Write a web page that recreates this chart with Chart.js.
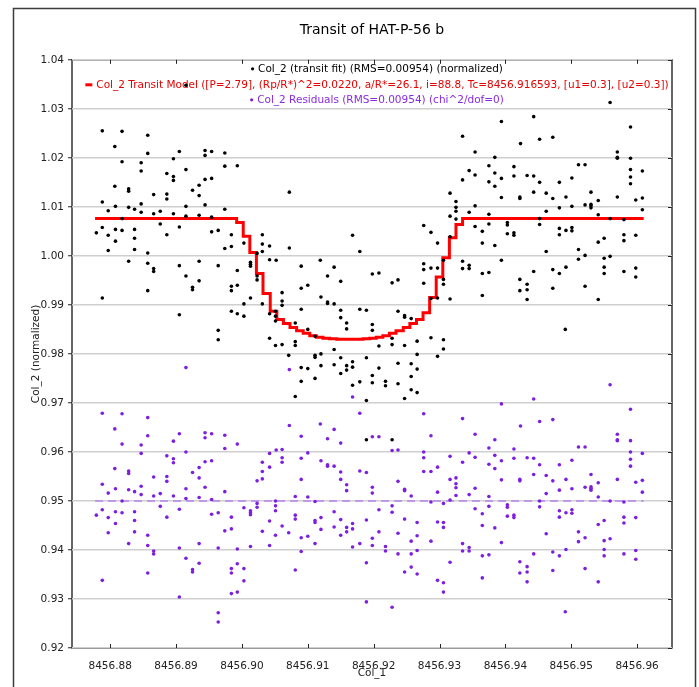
<!DOCTYPE html>
<html>
<head>
<meta charset="utf-8">
<title>Transit of HAT-P-56 b</title>
<script src="https://cdn.jsdelivr.net/npm/chart.js@4.4.1/dist/chart.umd.min.js"></script>
<style>
  html, body { margin: 0; padding: 0; background: #fff; }
  #wrap { width: 699px; height: 687px; }
</style>
</head>
<body>
<div id="wrap"><canvas id="transitChart" width="699" height="687"></canvas></div>
<script>
// observation times (BJD - 2450000), one per measurement
const time = [
  8456.8788, 8456.8818, 8456.8857, 8456.8807, 8456.8857, 8456.8905, 8456.8944, 8456.8954, 8456.8974, 8456.8944,
  8456.8818, 8456.8847, 8456.8896, 8456.8847, 8456.8974, 8456.8993, 8456.8915, 8456.8886, 8456.8896, 8456.8896,
  8456.8944, 8456.8954, 8456.8807, 8456.8828, 8456.8828, 8456.8925, 8456.8935, 8456.8866, 8456.8886, 8456.8886,
  8456.8935, 8456.8788, 8456.8847, 8456.8944, 8456.8808, 8456.8828, 8456.8837, 8456.8915, 8456.8974, 8456.8797,
  8456.8847, 8456.8876, 8456.8866, 8456.8896, 8456.8915, 8456.8935, 8456.8818, 8456.8954, 8456.8788, 8456.8876,
  8456.8905, 8456.8779, 8456.8808, 8456.8818, 8456.8837, 8456.8954, 8456.8964, 8456.8797, 8456.8837, 8456.8886,
  8456.8984, 8456.9031, 8456.8808, 8456.9003, 8456.9031, 8456.9042, 8456.8797, 8456.8837, 8456.8974, 8456.8984,
  8456.9031, 8456.8857, 8456.9042, 8456.9023, 8456.8828, 8456.8857, 8456.8935, 8456.8905, 8456.8964, 8456.9013,
  8456.9013, 8456.9013, 8456.8866, 8456.8866, 8456.8993, 8456.8915, 8456.9023, 8456.9023, 8456.8935, 8456.8925,
  8456.8925, 8456.8984, 8456.8984, 8456.8993, 8456.8857, 8456.9013, 8456.8788, 8456.9003, 8456.9031, 8456.8984,
  8456.8993, 8456.9003, 8456.8905, 8456.9042, 8456.8964, 8456.8964, 8456.9042, 8456.8915,
  8456.9335, 8456.9354, 8456.9345, 8456.9335, 8456.9354, 8456.9072, 8456.9316, 8456.9325, 8456.9325, 8456.9325,
  8456.9316, 8456.9345, 8456.9354, 8456.9325, 8456.9354, 8456.9276, 8456.9287, 8456.9297, 8456.9316, 8456.9168,
  8456.9072, 8456.9179, 8456.9052, 8456.9306, 8456.9119, 8456.9090, 8456.9140, 8456.9276, 8456.9276, 8456.9287,
  8456.9297, 8456.9335, 8456.9345, 8456.9335, 8456.9345, 8456.9130, 8456.9150, 8456.9100, 8456.9090, 8456.9198,
  8456.9208, 8456.9228, 8456.9237, 8456.9276, 8456.9306, 8456.9306, 8456.9297, 8456.9287, 8456.9316, 8456.9061,
  8456.9061, 8456.9061, 8456.9120, 8456.9130, 8456.9130, 8456.9140, 8456.9090, 8456.9051, 8456.9051, 8456.9051,
  8456.9150, 8456.9150, 8456.9159, 8456.9159, 8456.9179, 8456.9189, 8456.9081, 8456.9100, 8456.9198, 8456.9198,
  8456.9237, 8456.9247, 8456.9247, 8456.9257, 8456.9051, 8456.9061, 8456.9081, 8456.9081, 8456.9111, 8456.9140,
  8456.9228, 8456.9228, 8456.9208, 8456.9247, 8456.9266, 8456.9287, 8456.9306, 8456.9306, 8456.9297, 8456.9071,
  8456.9111, 8456.9111, 8456.9120, 8456.9090, 8456.9100, 8456.9120, 8456.9140, 8456.9150, 8456.9150, 8456.9159,
  8456.9159, 8456.9168, 8456.9168, 8456.9189, 8456.9168, 8456.9179, 8456.9198, 8456.9198, 8456.9208, 8456.9218,
  8456.9218, 8456.9237, 8456.9237, 8456.9257, 8456.9257, 8456.9266, 8456.9257, 8456.9266, 8456.9247, 8456.9266,
  8456.9111, 8456.9090, 8456.9081, 8456.9189, 8456.9189, 8456.9228,
  8456.9559, 8456.9394, 8456.9443, 8456.9590, 8456.9452, 8456.9472, 8456.9423, 8456.9570, 8456.9570, 8456.9570,
  8456.9590, 8456.9384, 8456.9375, 8456.9413, 8456.9511, 8456.9521, 8456.9590, 8456.9608, 8456.9384, 8456.9413,
  8456.9433, 8456.9443, 8456.9394, 8456.9501, 8456.9590, 8456.9375, 8456.9452, 8456.9482, 8456.9384, 8456.9590,
  8456.9530, 8456.9443, 8456.9462, 8456.9394, 8456.9422, 8456.9422, 8456.9472, 8456.9492, 8456.9570, 8456.9598,
  8456.9608, 8456.9541, 8456.9521, 8456.9530, 8456.9530, 8456.9530, 8456.9501, 8456.9482, 8456.9462, 8456.9608,
  8456.9375, 8456.9541, 8456.9452, 8456.9559, 8456.9580, 8456.9375, 8456.9403, 8456.9403, 8456.9452, 8456.9482,
  8456.9501, 8456.9501, 8456.9492, 8456.9365, 8456.9403, 8456.9413, 8456.9413, 8456.9482, 8456.9580, 8456.9598,
  8456.9550, 8456.9541, 8456.9365, 8456.9384, 8456.9580, 8456.9462, 8456.9511, 8456.9511, 8456.9521, 8456.9550,
  8456.9559, 8456.9394, 8456.9365, 8456.9375, 8456.9443, 8456.9472, 8456.9482, 8456.9492, 8456.9550, 8456.9550,
  8456.9580, 8456.9598, 8456.9598, 8456.9422, 8456.9433, 8456.9422, 8456.9433, 8456.9433, 8456.9365, 8456.9472,
  8456.9521, 8456.9541, 8456.9491
];

// normalized flux (transit fit)
const flux = [
  1.0255, 1.0254, 1.0246, 1.0223, 1.0209, 1.0213, 1.0215, 1.0213, 1.0210, 1.0205,
  1.0192, 1.0190, 1.0198, 1.0173, 1.0183, 1.0184, 1.0176, 1.0168, 1.0162, 1.0154,
  1.0156, 1.0158, 1.0142, 1.0137, 1.0132, 1.0134, 1.0144, 1.0125, 1.0126, 1.0116,
  1.0123, 1.0110, 1.0106, 1.0104, 1.0101, 1.0099, 1.0095, 1.0101, 1.0095, 1.0092,
  1.0089, 1.0091, 1.0086, 1.0086, 1.0081, 1.0083, 1.0076, 1.0079, 1.0058, 1.0065,
  1.0059, 1.0047, 1.0054, 1.0052, 1.0054, 1.0049, 1.0052, 1.0042, 1.0036, 1.0043,
  1.0043, 1.0043, 1.0030, 1.0026, 1.0024, 1.0020, 1.0011, 1.0013, 1.0015, 1.0019,
  1.0009, 1.0006, 0.9992, 1.0005, 0.9989, 0.9985, 0.9989, 0.9980, 0.9980, 0.9987,
  0.9983, 0.9979, 0.9974, 0.9968, 0.9970, 0.9959, 0.9959, 0.9951, 0.9949, 0.9936,
  0.9931, 0.9938, 0.9929, 0.9940, 0.9929, 0.9914, 0.9914, 0.9902, 0.9902, 0.9887,
  0.9882, 0.9877, 0.9880, 0.9882, 0.9848, 0.9829, 0.9832, 1.0348,
  1.0244, 1.0212, 1.0174, 1.0155, 1.0165, 1.0130, 1.0128, 1.0111, 1.0099, 1.0091,
  1.0081, 1.0089, 1.0102, 1.0075, 1.0060, 1.0062, 1.0048, 1.0026, 1.0039, 1.0042,
  1.0016, 1.0009, 0.9991, 0.9991, 0.9991, 0.9979, 0.9977, 0.9984, 0.9972, 0.9975,
  0.9975, 0.9989, 0.9981, 0.9974, 0.9974, 0.9959, 0.9948, 0.9940, 0.9934, 0.9963,
  0.9965, 0.9945, 0.9951, 0.9944, 0.9952, 0.9942, 0.9914, 0.9913, 0.9912, 0.9925,
  0.9908, 0.9899, 0.9916, 0.9906, 0.9903, 0.9902, 0.9891, 0.9887, 0.9877, 0.9867,
  0.9889, 0.9874, 0.9863, 0.9851, 0.9891, 0.9889, 0.9863, 0.9850, 0.9860, 0.9848,
  0.9887, 0.9878, 0.9875, 0.9872, 0.9817, 0.9819, 0.9825, 0.9817, 0.9836, 0.9809,
  0.9832, 0.9819, 0.9816, 0.9817, 0.9826, 0.9833, 0.9829, 0.9810, 0.9795, 0.9797,
  0.9797, 0.9793, 0.9800, 0.9772, 0.9770, 0.9776, 0.9778, 0.9792, 0.9760, 0.9776,
  0.9767, 0.9784, 0.9773, 0.9792, 0.9736, 0.9743, 0.9756, 0.9741, 0.9771, 0.9744,
  0.9735, 0.9781, 0.9739, 0.9780, 0.9754, 0.9769, 0.9727, 0.9721, 0.9709, 0.9799,
  0.9750, 0.9744, 0.9713, 0.9705, 0.9625, 0.9625,
  1.0313, 1.0274, 1.0284, 1.0263, 1.0238, 1.0242, 1.0229, 1.0212, 1.0201, 1.0199,
  1.0199, 1.0201, 1.0184, 1.0182, 1.0186, 1.0186, 1.0176, 1.0173, 1.0169, 1.0163,
  1.0164, 1.0163, 1.0158, 1.0159, 1.0161, 1.0151, 1.0150, 1.0150, 1.0142, 1.0147,
  1.0130, 1.0130, 1.0128, 1.0119, 1.0120, 1.0117, 1.0117, 1.0120, 1.0120, 1.0114,
  1.0118, 1.0113, 1.0104, 1.0105, 1.0102, 1.0098, 1.0101, 1.0098, 1.0091, 1.0094,
  1.0085, 1.0084, 1.0076, 1.0076, 1.0074, 1.0065, 1.0068, 1.0063, 1.0064, 1.0056,
  1.0058, 1.0051, 1.0052, 1.0050, 1.0045, 1.0047, 1.0042, 1.0043, 1.0043, 1.0042,
  1.0036, 1.0028, 1.0026, 1.0021, 1.0031, 1.0009, 1.0013, 0.9993, 1.0001, 0.9995,
  0.9999, 0.9991, 0.9964, 0.9966, 0.9968, 0.9972, 0.9964, 0.9977, 0.9977, 0.9964,
  0.9968, 0.9975, 0.9957, 0.9952, 0.9942, 0.9929, 0.9931, 0.9911, 0.9919, 0.9934,
  0.9938, 0.9911, 0.9850
];

// residuals, plotted offset around 0.95
const resid = [
  0.9679, 0.9678, 0.9670, 0.9647, 0.9633, 0.9637, 0.9639, 0.9637, 0.9634, 0.9629,
  0.9616, 0.9614, 0.9622, 0.9597, 0.9607, 0.9616, 0.9600, 0.9592, 0.9586, 0.9578,
  0.9580, 0.9582, 0.9566, 0.9561, 0.9556, 0.9558, 0.9568, 0.9549, 0.9550, 0.9540,
  0.9547, 0.9534, 0.9530, 0.9528, 0.9525, 0.9523, 0.9519, 0.9525, 0.9519, 0.9516,
  0.9513, 0.9515, 0.9510, 0.9510, 0.9505, 0.9507, 0.9500, 0.9503, 0.9482, 0.9489,
  0.9483, 0.9471, 0.9478, 0.9476, 0.9478, 0.9473, 0.9476, 0.9466, 0.9460, 0.9467,
  0.9467, 0.9579, 0.9454, 0.9486, 0.9560, 0.9597, 0.9435, 0.9437, 0.9439, 0.9443,
  0.9545, 0.9430, 0.9569, 0.9541, 0.9413, 0.9409, 0.9413, 0.9404, 0.9404, 0.9480,
  0.9476, 0.9472, 0.9398, 0.9392, 0.9402, 0.9383, 0.9495, 0.9487, 0.9373, 0.9360,
  0.9355, 0.9362, 0.9353, 0.9372, 0.9353, 0.9407, 0.9338, 0.9362, 0.9438, 0.9311,
  0.9314, 0.9337, 0.9304, 0.9459, 0.9272, 0.9253, 0.9409, 0.9772,
  0.9668, 0.9636, 0.9598, 0.9579, 0.9589, 0.9768, 0.9591, 0.9547, 0.9535, 0.9527,
  0.9544, 0.9513, 0.9526, 0.9511, 0.9484, 0.9678, 0.9633, 0.9569, 0.9502, 0.9712,
  0.9654, 0.9679, 0.9604, 0.9495, 0.9657, 0.9632, 0.9646, 0.9600, 0.9588, 0.9560,
  0.9518, 0.9413, 0.9405, 0.9398, 0.9398, 0.9627, 0.9618, 0.9598, 0.9587, 0.9631,
  0.9631, 0.9603, 0.9604, 0.9560, 0.9456, 0.9446, 0.9457, 0.9498, 0.9375, 0.9605,
  0.9588, 0.9579, 0.9582, 0.9574, 0.9571, 0.9571, 0.9544, 0.9500, 0.9490, 0.9480,
  0.9559, 0.9544, 0.9533, 0.9521, 0.9561, 0.9558, 0.9509, 0.9508, 0.9528, 0.9516,
  0.9540, 0.9524, 0.9521, 0.9510, 0.9430, 0.9449, 0.9471, 0.9463, 0.9499, 0.9478,
  0.9490, 0.9477, 0.9482, 0.9463, 0.9456, 0.9418, 0.9333, 0.9314, 0.9338, 0.9435,
  0.9460, 0.9456, 0.9466, 0.9425, 0.9428, 0.9442, 0.9447, 0.9462, 0.9430, 0.9446,
  0.9437, 0.9454, 0.9443, 0.9461, 0.9406, 0.9413, 0.9424, 0.9409, 0.9437, 0.9407,
  0.9398, 0.9434, 0.9392, 0.9418, 0.9392, 0.9399, 0.9365, 0.9351, 0.9355, 0.9429,
  0.9413, 0.9397, 0.9359, 0.9374, 0.9294, 0.9283,
  0.9737, 0.9698, 0.9708, 0.9687, 0.9662, 0.9666, 0.9653, 0.9636, 0.9625, 0.9623,
  0.9623, 0.9625, 0.9608, 0.9606, 0.9610, 0.9610, 0.9600, 0.9597, 0.9593, 0.9587,
  0.9588, 0.9587, 0.9582, 0.9583, 0.9585, 0.9575, 0.9574, 0.9574, 0.9566, 0.9571,
  0.9554, 0.9554, 0.9552, 0.9543, 0.9544, 0.9541, 0.9541, 0.9544, 0.9544, 0.9538,
  0.9542, 0.9537, 0.9528, 0.9529, 0.9526, 0.9522, 0.9525, 0.9522, 0.9515, 0.9518,
  0.9509, 0.9508, 0.9500, 0.9500, 0.9498, 0.9489, 0.9492, 0.9487, 0.9488, 0.9480,
  0.9482, 0.9475, 0.9476, 0.9474, 0.9469, 0.9471, 0.9466, 0.9467, 0.9467, 0.9466,
  0.9460, 0.9452, 0.9450, 0.9445, 0.9455, 0.9433, 0.9437, 0.9417, 0.9425, 0.9419,
  0.9423, 0.9415, 0.9388, 0.9390, 0.9392, 0.9396, 0.9388, 0.9401, 0.9401, 0.9388,
  0.9392, 0.9399, 0.9381, 0.9376, 0.9366, 0.9353, 0.9355, 0.9335, 0.9343, 0.9358,
  0.9362, 0.9335, 0.9274
];

// binned transit model: each value holds until the next time
const modelTime = [
  8456.8777, 8456.8992, 8456.9002, 8456.9012, 8456.9022, 8456.9032, 8456.9043, 8456.9053, 8456.9063, 8456.9073,
  8456.9083, 8456.9093, 8456.9103, 8456.9113, 8456.9123, 8456.9133, 8456.9144, 8456.9154, 8456.9164, 8456.9174,
  8456.9184, 8456.9194, 8456.9204, 8456.9214, 8456.9224, 8456.9234, 8456.9245, 8456.9255, 8456.9265, 8456.9275,
  8456.9285, 8456.9295, 8456.9305, 8456.9315, 8456.9325, 8456.9335, 8456.9610
];
const modelFlux = [
  1.0076, 1.0068, 1.0040, 1.0007, 0.9964, 0.9923, 0.9887, 0.9870, 0.9862, 0.9854,
  0.9847, 0.9842, 0.9837, 0.9834, 0.9832, 0.9831, 0.9830, 0.9830, 0.9830, 0.9830,
  0.9831, 0.9832, 0.9834, 0.9837, 0.9842, 0.9847, 0.9854, 0.9862, 0.9870, 0.9884,
  0.9915, 0.9957, 0.9996, 1.0037, 1.0064, 1.0076, 1.0076
];
const residBaseline = 0.95;

const xTicks = [8456.88, 8456.89, 8456.90, 8456.91, 8456.92, 8456.93, 8456.94, 8456.95, 8456.96];
const yTicks = [0.92, 0.93, 0.94, 0.95, 0.96, 0.97, 0.98, 0.99, 1.00, 1.01, 1.02, 1.03, 1.04];

const fitLabel = 'Col_2 (transit fit) (RMS=0.00954) (normalized)';
const modelLabel = 'Col_2 Transit Model ([P=2.79], (Rp/R*)^2=0.0220, a/R*=26.1, i=88.8, Tc=8456.916593, [u1=0.3], [u2=0.3])';
const residLabel = 'Col_2 Residuals (RMS=0.00954) (chi^2/dof=0)';

const FONT = '"DejaVu Sans", Verdana, sans-serif';
const PURPLE = '#7d1fe0';

// frame, inner tick marks and the legend drawn inside the plot
const framePlugin = {
    id: 'frame',
    beforeDraw(chart) {
        const { ctx, chartArea: a } = chart;
        ctx.save();
        ctx.strokeStyle = '#3c3c3c';
        ctx.lineWidth = 1.5;
        ctx.beginPath();
        ctx.moveTo(13.5, chart.height);
        ctx.lineTo(13.5, 8.5);
        ctx.lineTo(695.5, 8.5);
        ctx.lineTo(695.5, chart.height);
        ctx.stroke();
        ctx.strokeStyle = '#000';
        ctx.lineWidth = 1.2;
        ctx.strokeRect(a.left, a.top, a.right - a.left, a.bottom - a.top);
        ctx.restore();
    },
    beforeDatasetsDraw(chart) {
        const { ctx, chartArea: a, scales } = chart;
        ctx.save();
        ctx.strokeStyle = '#222';
        ctx.lineWidth = 1;
        ctx.beginPath();
        xTicks.forEach(v => {
            const px = Math.round(scales.x.getPixelForValue(v)) + 0.5;
            ctx.moveTo(px, a.top);
            ctx.lineTo(px, a.top + 4);
            ctx.moveTo(px, a.bottom);
            ctx.lineTo(px, a.bottom - 4);
        });
        yTicks.forEach(v => {
            const py = Math.round(scales.y.getPixelForValue(v)) + 0.5;
            ctx.moveTo(a.right - 4, py);
            ctx.lineTo(a.right, py);
        });
        ctx.stroke();

        ctx.font = '10.5px ' + FONT;
        ctx.textBaseline = 'middle';
        const cx = (a.left + a.right) / 2 + 5;
        chart.data.datasets.forEach(ds => {
            if (!ds.legendRow) return;
            const y = a.top + ds.legendRow;
            const w = ctx.measureText(ds.label).width;
            const markW = ds.legendMarker === 'line' ? 7 : 3;
            const x0 = cx - (markW + 4 + w) / 2;
            if (ds.legendMarker === 'line') {
                ctx.fillStyle = ds.borderColor;
                ctx.fillRect(x0, y - 1.5, 7, 3);
            } else {
                ctx.fillStyle = ds.backgroundColor;
                ctx.beginPath();
                ctx.arc(x0 + 1.5, y, 1.6, 0, Math.PI * 2);
                ctx.fill();
            }
            ctx.fillStyle = ds.legendColor;
            ctx.textAlign = 'left';
            ctx.fillText(ds.label, x0 + markW + 4, y);
        });
        ctx.restore();
    }
};

document.addEventListener('DOMContentLoaded', function () {
    const fitPoints = time.map((t, i) => ({ x: t, y: flux[i] }));
    const residPoints = time.map((t, i) => ({ x: t, y: resid[i] }));
    const modelPoints = modelTime.map((t, i) => ({ x: t, y: modelFlux[i] }));
    const basePoints = [modelTime[0], modelTime[modelTime.length - 1]].map(t => ({ x: t, y: residBaseline }));

    const ctx = document.getElementById('transitChart').getContext('2d');
    new Chart(ctx, {
        type: 'scatter',
        data: {
            datasets: [{
                label: fitLabel,
                data: fitPoints,
                backgroundColor: '#000',
                borderWidth: 0,
                pointRadius: 1.8,
                order: 1,
                legendRow: 9,
                legendMarker: 'dot',
                legendColor: '#000'
            }, {
                type: 'line',
                label: modelLabel,
                data: modelPoints,
                borderColor: '#ff0000',
                borderWidth: 3,
                pointRadius: 0,
                stepped: 'before',
                fill: false,
                order: 4,
                legendRow: 25,
                legendMarker: 'line',
                legendColor: '#e60000'
            }, {
                label: residLabel,
                data: residPoints,
                backgroundColor: PURPLE,
                borderWidth: 0,
                pointRadius: 1.8,
                order: 2,
                legendRow: 40,
                legendMarker: 'dot',
                legendColor: '#8a2be2'
            }, {
                type: 'line',
                label: 'residual zero',
                data: basePoints,
                borderColor: '#b784ea',
                borderWidth: 1.5,
                borderDash: [8, 5],
                pointRadius: 0,
                fill: false,
                order: 5
            }]
        },
        options: {
            responsive: false,
            animation: false,
            devicePixelRatio: 1,
            layout: { padding: { left: 0, right: 27, top: 0, bottom: 0 } },
            scales: {
                x: {
                    type: 'linear',
                    min: 8456.8742,
                    max: 8456.9653,
                    afterBuildTicks: s => { s.ticks = xTicks.map(v => ({ value: v })); },
                    afterFit: s => { s.height = 39; },
                    grid: { display: false },
                    border: { display: false },
                    ticks: {
                        padding: 4,
                        color: '#222',
                        font: { family: FONT, size: 10.5 },
                        maxRotation: 0,
                        callback: v => v.toFixed(2)
                    },
                    title: {
                        display: true,
                        text: 'Col_1',
                        color: '#222',
                        font: { family: FONT, size: 10.5 },
                        padding: { top: 0, bottom: 7 }
                    }
                },
                y: {
                    min: 0.92,
                    max: 1.04,
                    afterBuildTicks: s => { s.ticks = yTicks.map(v => ({ value: v })); },
                    afterFit: s => { s.width = 72; },
                    grid: {
                        color: '#cfcfcf',
                        lineWidth: 1.5,
                        drawTicks: true,
                        tickLength: 4,
                        tickColor: '#222',
                        tickWidth: 1
                    },
                    border: { display: false },
                    ticks: {
                        padding: 4,
                        color: '#222',
                        font: { family: FONT, size: 10.5 },
                        callback: v => v.toFixed(2)
                    },
                    title: {
                        display: true,
                        text: 'Col_2 (normalized)',
                        color: '#222',
                        font: { family: FONT, size: 10.5 },
                        padding: { top: 30, bottom: 0 }
                    }
                }
            },
            plugins: {
                legend: { display: false },
                tooltip: { enabled: false },
                title: {
                    display: true,
                    fullSize: false,
                    text: 'Transit of HAT-P-56 b',
                    color: '#000',
                    font: { family: FONT, size: 14, weight: 'normal' },
                    padding: { top: 22, bottom: 21 }
                }
            }
        },
        plugins: [framePlugin]
    });
});
</script>
</body>
</html>
